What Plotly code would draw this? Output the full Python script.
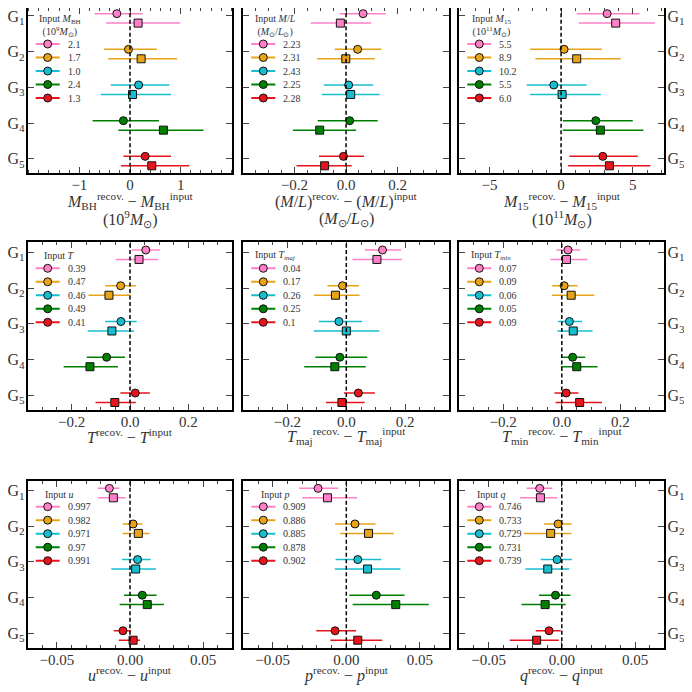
import plotly.graph_objects as go

# galaxies and their colours
galaxies = [1, 2, 3, 4, 5]
galaxy_labels = ['G<sub>1</sub>', 'G<sub>2</sub>', 'G<sub>3</sub>', 'G<sub>4</sub>', 'G<sub>5</sub>']
colors = ['#ff80c8', '#e8a317', '#17becf', '#008000', '#e8141c']

# input values shown in each legend
input_mbh = [2.1, 1.7, 1.0, 2.4, 1.3]
input_ml = [2.23, 2.31, 2.43, 2.25, 2.28]
input_m15 = [5.5, 8.9, 10.2, 5.5, 6.0]
input_t = [0.39, 0.47, 0.46, 0.49, 0.41]
input_tmaj = [0.04, 0.17, 0.26, 0.25, 0.1]
input_tmin = [0.07, 0.09, 0.06, 0.05, 0.09]
input_u = [0.997, 0.982, 0.971, 0.97, 0.991]
input_p = [0.909, 0.886, 0.885, 0.878, 0.902]
input_q = [0.746, 0.733, 0.729, 0.731, 0.739]

# recovered - input: circles and squares, with lower / upper error limits
mbh_circ = [-0.26, -0.03, 0.17, -0.13, 0.30]
mbh_circ_lo = [-0.70, -0.51, -0.38, -0.74, -0.13]
mbh_circ_hi = [0.25, 0.53, 0.78, 0.57, 0.81]
mbh_sq = [0.16, 0.22, 0.05, 0.66, 0.43]
mbh_sq_lo = [-0.47, -0.43, -0.58, -0.23, -0.18]
mbh_sq_hi = [0.99, 0.93, 0.81, 1.45, 1.17]

ml_circ = [0.066, 0.045, 0.010, 0.014, -0.010]
ml_circ_lo = [-0.025, -0.044, -0.086, -0.110, -0.105]
ml_circ_hi = [0.154, 0.137, 0.105, 0.123, 0.070]
ml_sq = [-0.022, -0.001, 0.018, -0.102, -0.083]
ml_sq_lo = [-0.137, -0.112, -0.094, -0.206, -0.192]
ml_sq_hi = [0.097, 0.111, 0.130, 0.039, 0.022]

m15_circ = [3.21, 0.21, -0.51, 2.42, 2.91]
m15_circ_lo = [1.09, -2.16, -2.40, 0.12, 0.58]
m15_circ_hi = [5.47, 2.84, 1.79, 5.00, 5.35]
m15_sq = [3.81, 1.09, 0.07, 2.74, 3.37]
m15_sq_lo = [1.23, -1.79, -2.16, 0.12, 0.49]
m15_sq_hi = [6.53, 4.16, 2.77, 5.74, 6.23]

t_circ = [0.054, -0.032, -0.031, -0.080, 0.018]
t_circ_lo = [0.006, -0.085, -0.085, -0.148, -0.033]
t_circ_hi = [0.103, 0.020, 0.023, -0.017, 0.068]
t_sq = [0.031, -0.072, -0.062, -0.137, -0.052]
t_sq_lo = [-0.049, -0.142, -0.145, -0.227, -0.118]
t_sq_hi = [0.097, 0.002, 0.014, -0.041, 0.020]

tmaj_circ = [0.123, -0.013, -0.025, -0.022, 0.041]
tmaj_circ_lo = [0.063, -0.064, -0.093, -0.105, -0.008]
tmaj_circ_hi = [0.186, 0.043, 0.054, 0.071, 0.097]
tmaj_sq = [0.104, -0.037, 0.000, -0.039, -0.015]
tmaj_sq_lo = [0.021, -0.110, -0.110, -0.143, -0.069]
tmaj_sq_hi = [0.189, 0.045, 0.112, 0.066, 0.062]

tmin_circ = [0.021, 0.008, 0.026, 0.037, 0.015]
tmin_circ_lo = [-0.018, -0.033, -0.013, -0.003, -0.025]
tmin_circ_hi = [0.063, 0.054, 0.070, 0.080, 0.057]
tmin_sq = [0.016, 0.032, 0.039, 0.051, 0.061]
tmin_sq_lo = [-0.039, -0.034, -0.015, -0.003, -0.021]
tmin_sq_hi = [0.087, 0.111, 0.105, 0.122, 0.137]

u_circ = [-0.0141, 0.0021, 0.0052, 0.0084, -0.0048]
u_circ_lo = [-0.0221, -0.0050, -0.0055, -0.0041, -0.0112]
u_circ_hi = [-0.0073, 0.0084, 0.0141, 0.0182, 0.0007]
u_sq = [-0.0114, 0.0057, 0.0039, 0.0118, 0.0021]
u_sq_lo = [-0.0221, -0.0050, -0.0128, -0.0071, -0.0077]
u_sq_hi = [-0.0030, 0.0134, 0.0178, 0.0232, 0.0068]

p_circ = [-0.0192, 0.0059, 0.0078, 0.0204, -0.0076]
p_circ_lo = [-0.0320, -0.0076, -0.0073, 0.0021, -0.0204]
p_circ_hi = [-0.0055, 0.0199, 0.0238, 0.0396, 0.0066]
p_sq = [-0.0128, 0.0151, 0.0144, 0.0336, 0.0078]
p_sq_lo = [-0.0300, -0.0041, -0.0078, 0.0043, -0.0108]
p_sq_hi = [0.0073, 0.0323, 0.0368, 0.0561, 0.0243]

q_circ = [-0.0151, -0.0025, -0.0032, -0.0043, -0.0087]
q_circ_lo = [-0.0240, -0.0121, -0.0144, -0.0156, -0.0178]
q_circ_hi = [-0.0064, 0.0066, 0.0069, 0.0059, -0.0007]
q_sq = [-0.0146, -0.0076, -0.0096, -0.0114, -0.0172]
q_sq_lo = [-0.0286, -0.0259, -0.0249, -0.0275, -0.0355]
q_sq_hi = [-0.0032, 0.0066, 0.0050, 0.0027, -0.0021]

M = '<i>M</i>'
MSUN = '<i>M</i><sub>⊙</sub>'

panels = [
    dict(circ=(mbh_circ, mbh_circ_lo, mbh_circ_hi), sq=(mbh_sq, mbh_sq_lo, mbh_sq_hi), inputs=input_mbh,
         legend_title='Input ' + M + '<sub>BH</sub><br>(10<sup>9</sup>' + MSUN + ')',
         xtitle=[M + '<sub>BH</sub><sup>recov.</sup> − ' + M + '<sub>BH</sub><sup>input</sup>',
                 '(10<sup>9</sup>' + MSUN + ')'],
         xrange=[-2.02, 2.02], tickvals=[-1, 0, 1], minor=0.2, fmt=''),
    dict(circ=(ml_circ, ml_circ_lo, ml_circ_hi), sq=(ml_sq, ml_sq_lo, ml_sq_hi), inputs=input_ml,
         legend_title='Input <i>M</i>/<i>L</i><br>(' + MSUN + '/<i>L</i><sub>⊙</sub>)',
         xtitle=['(<i>M</i>/<i>L</i>)<sup>recov.</sup> − (<i>M</i>/<i>L</i>)<sup>input</sup>',
                 '(' + MSUN + '/<i>L</i><sub>⊙</sub>)'],
         xrange=[-0.398, 0.4], tickvals=[-0.2, 0.0, 0.2], minor=0.05, fmt='.1f'),
    dict(circ=(m15_circ, m15_circ_lo, m15_circ_hi), sq=(m15_sq, m15_sq_lo, m15_sq_hi), inputs=input_m15,
         legend_title='Input ' + M + '<sub>15</sub><br>(10<sup>11</sup>' + MSUN + ')',
         xtitle=[M + '<sub>15</sub><sup>recov.</sup> − ' + M + '<sub>15</sub><sup>input</sup>',
                 '(10<sup>11</sup>' + MSUN + ')'],
         xrange=[-7.1, 7.2], tickvals=[-5, 0, 5], minor=1, fmt=''),
    dict(circ=(t_circ, t_circ_lo, t_circ_hi), sq=(t_sq, t_sq_lo, t_sq_hi), inputs=input_t,
         legend_title='Input <i>T</i>',
         xtitle=['<i>T</i><sup>recov.</sup> − <i>T</i><sup>input</sup>'],
         xrange=[-0.35, 0.35], tickvals=[-0.2, 0.0, 0.2], minor=0.05, fmt='.1f'),
    dict(circ=(tmaj_circ, tmaj_circ_lo, tmaj_circ_hi), sq=(tmaj_sq, tmaj_sq_lo, tmaj_sq_hi), inputs=input_tmaj,
         legend_title='Input <i>T<sub>maj</sub></i>',
         xtitle=['<i>T</i><sub>maj</sub><sup>recov.</sup> − <i>T</i><sub>maj</sub><sup>input</sup>'],
         xrange=[-0.35, 0.35], tickvals=[-0.2, 0.0, 0.2], minor=0.05, fmt='.1f'),
    dict(circ=(tmin_circ, tmin_circ_lo, tmin_circ_hi), sq=(tmin_sq, tmin_sq_lo, tmin_sq_hi), inputs=input_tmin,
         legend_title='Input <i>T<sub>min</sub></i>',
         xtitle=['<i>T</i><sub>min</sub><sup>recov.</sup> − <i>T</i><sub>min</sub><sup>input</sup>'],
         xrange=[-0.35, 0.35], tickvals=[-0.2, 0.0, 0.2], minor=0.05, fmt='.1f'),
    dict(circ=(u_circ, u_circ_lo, u_circ_hi), sq=(u_sq, u_sq_lo, u_sq_hi), inputs=input_u,
         legend_title='Input <i>u</i>',
         xtitle=['<i>u</i><sup>recov.</sup> − <i>u</i><sup>input</sup>'],
         xrange=[-0.07, 0.07], tickvals=[-0.05, 0.0, 0.05], minor=0.01, fmt='.2f'),
    dict(circ=(p_circ, p_circ_lo, p_circ_hi), sq=(p_sq, p_sq_lo, p_sq_hi), inputs=input_p,
         legend_title='Input <i>p</i>',
         xtitle=['<i>p</i><sup>recov.</sup> − <i>p</i><sup>input</sup>'],
         xrange=[-0.07, 0.07], tickvals=[-0.05, 0.0, 0.05], minor=0.01, fmt='.2f'),
    dict(circ=(q_circ, q_circ_lo, q_circ_hi), sq=(q_sq, q_sq_lo, q_sq_hi), inputs=input_q,
         legend_title='Input <i>q</i>',
         xtitle=['<i>q</i><sup>recov.</sup> − <i>q</i><sup>input</sup>'],
         xrange=[-0.07, 0.07], tickvals=[-0.05, 0.0, 0.05], minor=0.01, fmt='.2f'),
]

# the page body has an 8px margin, so the figure is 684px and starts at (8, 8)
OFF = 8.0
W = 684.0

# panel edges, in pixels of the 692x692 window
col_px = [(27.7, 232.3), (243.3, 449.3), (459.3, 664.3)]
row_px = [(6.0, 173.3), (242.3, 410.0), (480.7, 647.7)]
# centres of the x-axis title lines, per row
title_px = [(200.5, 219.0), (436.0,), (674.0,)]
YRANGE = [5.41, 0.72]


def px_to_paper_x(px):
    return (px - OFF) / W


def px_to_paper_y(px):
    return 1 - (px - OFF) / W


FONT = 'Liberation Serif'
TXT = '#333333'
fig = go.Figure()

for k, panel in enumerate(panels):
    r, c = divmod(k, 3)
    n = k + 1
    xa = 'x' if n == 1 else 'x%d' % n
    ya = 'y' if n == 1 else 'y%d' % n

    x0, x1 = col_px[c]
    y0, y1 = row_px[r]
    xr = panel['xrange']

    # pixel offsets inside the panel -> data coordinates
    def px_x(px):
        return xr[0] + px / (x1 - x0) * (xr[1] - xr[0])

    def px_y(px):
        return YRANGE[1] + px / (y1 - y0) * (YRANGE[0] - YRANGE[1])

    # the top row cannot start above the page margin: clip its range instead
    top_px = max(y0, OFF)
    yrange = [YRANGE[0], px_y(top_px - y0)]

    # markers with asymmetric horizontal error bars, one trace per galaxy
    for style, (vals, lo, hi), offset in [('circle', panel['circ'], -0.065), ('square', panel['sq'], 0.2)]:
        for i, g in enumerate(galaxies):
            fig.add_trace(go.Scatter(
                x=[vals[i]], y=[g + offset], xaxis=xa, yaxis=ya,
                mode='markers', showlegend=False, hoverinfo='x',
                marker=dict(symbol=style, size=8, color=colors[i],
                            line=dict(color='#111111', width=1)),
                error_x=dict(type='data', symmetric=False,
                             array=[hi[i] - vals[i]], arrayminus=[vals[i] - lo[i]],
                             color=colors[i], thickness=1.5, width=0)
            ))

    # legend drawn inside the panel (errorbar-like keys)
    two_lines = '<br>' in panel['legend_title']
    title_y = 20.0 if two_lines else 13.3
    first_y = 38.0 if two_lines else 26.0
    fig.add_annotation(x=px_x(32), y=px_y(title_y), xref=xa, yref=ya, text=panel['legend_title'],
                       showarrow=False, xanchor='center', yanchor='middle', align='center',
                       font=dict(size=10, family=FONT, color=TXT))
    for i in range(len(galaxies)):
        ky = px_y(first_y + 13.5 * i)
        fig.add_trace(go.Scatter(
            x=[px_x(20)], y=[ky], xaxis=xa, yaxis=ya, mode='markers',
            showlegend=False, hoverinfo='skip',
            marker=dict(symbol='circle', size=8, color=colors[i], line=dict(color='#111111', width=1)),
            error_x=dict(type='data', array=[px_x(12) - px_x(0)], color=colors[i], thickness=2, width=0)
        ))
        fig.add_annotation(x=px_x(38), y=ky, xref=xa, yref=ya, text=str(panel['inputs'][i]),
                           showarrow=False, xanchor='left', yanchor='middle',
                           font=dict(size=10, family=FONT, color=TXT))

    # x-axis title lines
    for line_text, ty in zip(panel['xtitle'], title_px[r]):
        fig.add_annotation(x=px_to_paper_x((x0 + x1) / 2), y=px_to_paper_y(ty), xref='paper', yref='paper',
                           text=line_text, showarrow=False, xanchor='center', yanchor='middle',
                           font=dict(size=16, family=FONT, color=TXT))

    fig.update_layout(**{
        ('xaxis' if n == 1 else 'xaxis%d' % n): dict(
            domain=[px_to_paper_x(x0), px_to_paper_x(x1)], anchor=ya, range=xr,
            tickmode='array', tickvals=panel['tickvals'], tickformat=panel['fmt'],
            ticks='inside', ticklen=6, tickwidth=1.2, ticklabelstandoff=-3,
            minor=dict(tickmode='linear', tick0=0, dtick=panel['minor'], ticks='inside', ticklen=3, tickwidth=1),
            showline=True, linewidth=1.8, linecolor='black', mirror='allticks',
            showgrid=False, zeroline=False, automargin=False,
            tickfont=dict(size=15, family=FONT, color=TXT)
        ),
        ('yaxis' if n == 1 else 'yaxis%d' % n): dict(
            domain=[px_to_paper_y(y1), px_to_paper_y(top_px)], anchor=xa, range=yrange,
            tickmode='array', tickvals=galaxies, ticktext=galaxy_labels,
            showticklabels=(c != 1), side='right' if c == 2 else 'left',
            ticks='inside', ticklen=6, tickwidth=1.2, ticklabelstandoff=-2,
            ticklabeloverflow='allow',
            showline=True, linewidth=1.8, linecolor='black', mirror='allticks',
            showgrid=False, zeroline=False, automargin=False,
            tickfont=dict(size=16, family=FONT, color=TXT)
        ),
    })

    # dashed zero line
    fig.add_shape(type='line', xref=xa, yref=ya + ' domain', x0=0, x1=0, y0=0, y1=1,
                  line=dict(color='black', width=1.5, dash='4px,2.5px'))

fig.update_layout(
    width=684, height=684,
    margin=dict(l=0, r=0, t=0, b=0),
    plot_bgcolor='white', paper_bgcolor='white',
    showlegend=False,
    font=dict(family=FONT)
)

fig.write_html("out.html")
